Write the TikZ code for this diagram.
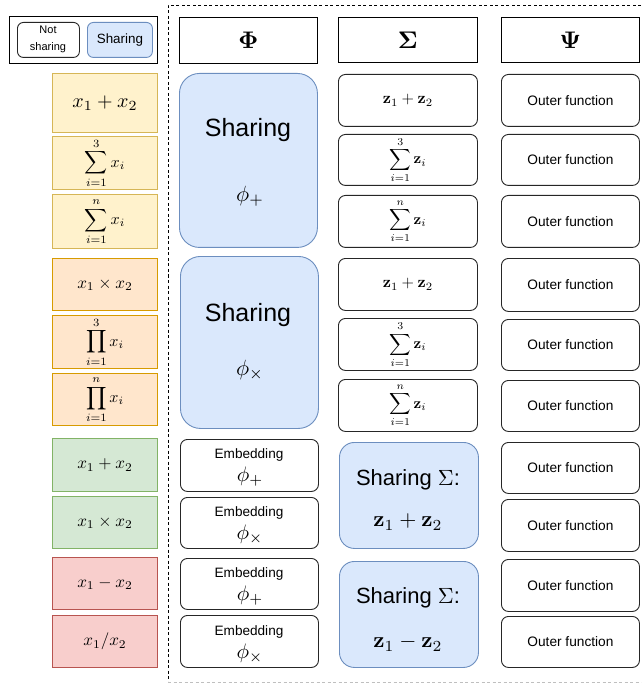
\documentclass[tikz,border=0pt]{standalone}
\usepackage{amsmath,amssymb,graphicx}
\usepackage[no-math]{fontspec}
\newfontfamily\hel{Liberation Sans}
\definecolor{ylwF}{HTML}{FFF2CC}\definecolor{ylwD}{HTML}{D6B656}
\definecolor{orgF}{HTML}{FFE6CC}\definecolor{orgD}{HTML}{D79B00}
\definecolor{grnF}{HTML}{D5E8D4}\definecolor{grnD}{HTML}{82B366}
\definecolor{redF}{HTML}{F8CECC}\definecolor{redD}{HTML}{B85450}
\definecolor{bluF}{HTML}{DAE8FC}\definecolor{bluD}{HTML}{6C8EBF}
\newcommand\fs[1]{\fontsize{#1}{#1}\selectfont}
\newcommand\ms[2]{\scalebox{#1}{#2}}
\newcommand\bx[7]{\node[#6,anchor=north west,minimum width=#4pt-#2pt,minimum height=#5pt-#3pt,inner sep=0pt] (#1) at (#2,#3) {#7};}
\tikzset{
  hdr/.style={draw=black, line width=0.9pt, fill=white},
  plain/.style={draw=black!85, line width=0.9pt, fill=white, rounded corners=7pt},
  ylw/.style={draw=ylwD, fill=ylwF, line width=1pt},
  org/.style={draw=orgD, fill=orgF, line width=1pt},
  grn/.style={draw=grnD, fill=grnF, line width=1pt},
  red/.style={draw=redD, fill=redF, line width=1pt},
  share/.style={draw=bluD, fill=bluF, line width=0.9pt, rounded corners=20pt},
  frame/.style={draw=black, line width=0.8pt, dash pattern=on 3pt off 2.5pt},
  txt/.style={inner sep=0pt, anchor=center},
}
\begin{document}
\begin{tikzpicture}[x=1pt,y=-1pt]
\useasboundingbox (0,0) rectangle (641,684);
% dashed frame
\coordinate (fTL) at (168,5); \coordinate (fTR) at (641,5);
\coordinate (fBL) at (168,682); \coordinate (fBR) at (641,682);
\draw[frame] (fTR) -- (fTL) -- (fBL);
\draw[frame, draw=black!25] (fBL) -- (fBR);
% legend
\bx{leg}{9}{16}{157}{63}{hdr}{}
\bx{legN}{17}{22}{79}{57}{plain, rounded corners=6pt}{}
\node[txt, align=center, font=\hel\fontsize{11}{17}\selectfont] (legNt) at (48,39.5) {Not\\sharing};
\bx{legS}{87}{22}{152}{57}{share, rounded corners=6pt}{\hel\fs{13.4}Sharing}
% headers
\bx{hPhi}{179}{17}{317}{63}{hdr}{\ms{2.4}{$\boldsymbol{\Phi}$}}
\bx{hSig}{338}{17}{477}{62}{hdr}{\ms{2.4}{$\boldsymbol{\Sigma}$}}
\bx{hPsi}{501}{17}{639}{62}{hdr}{\ms{2.4}{$\boldsymbol{\Psi}$}}
% left column
\bx{a1}{52}{73}{157}{132}{ylw}{\ms{2}{$x_1+x_2$}}
\bx{a2}{52}{136}{157}{189}{ylw}{\ms{1.6}{$\displaystyle\sum_{i=1}^{3}x_i$}}
\bx{a3}{52}{194}{157}{248}{ylw}{\ms{1.6}{$\displaystyle\sum_{i=1}^{n}x_i$}}
\bx{b1}{52}{258}{157}{310}{org}{\ms{1.7}{$x_1\times x_2$}}
\bx{b2}{52}{315}{157}{368}{org}{\ms{1.6}{$\displaystyle\prod_{i=1}^{3}x_i$}}
\bx{b3}{52}{373}{157}{425}{org}{\ms{1.6}{$\displaystyle\prod_{i=1}^{n}x_i$}}
\bx{c1}{52}{438}{157}{491}{grn}{\ms{1.7}{$x_1+x_2$}}
\bx{c2}{52}{496}{157}{548}{grn}{\ms{1.7}{$x_1\times x_2$}}
\bx{d1}{52}{557}{157}{609}{red}{\ms{1.7}{$x_1-x_2$}}
\bx{d2}{52}{615}{157}{667}{red}{\ms{1.7}{$x_1/x_2$}}
% Phi column
\bx{p1}{179}{73}{317}{247}{share}{}
\node[txt] (p1a) at (248,130) {\hel\fs{25}Sharing};
\node[txt] (p1b) at (250,196) {\ms{2.2}{$\phi_+$}};
\bx{p2}{180}{256}{318}{428}{share}{}
\node[txt] (p2a) at (248,315) {\hel\fs{25}Sharing};
\node[txt] (p2b) at (250,370) {\ms{2.2}{$\phi_\times$}};
\bx{e1}{180}{439}{318}{491}{plain}{}
\node[txt] (e1a) at (249,455) {\hel\fs{13.6}Embedding};
\node[txt] (e1b) at (250,477) {\ms{2.1}{$\phi_+$}};
\bx{e2}{180}{497}{318}{548}{plain}{}
\node[txt] (e2a) at (249,513) {\hel\fs{13.6}Embedding};
\node[txt] (e2b) at (250,535) {\ms{2.1}{$\phi_\times$}};
\bx{e3}{180}{558}{318}{609}{plain}{}
\node[txt] (e3a) at (249,574) {\hel\fs{13.6}Embedding};
\node[txt] (e3b) at (250,596) {\ms{2.1}{$\phi_+$}};
\bx{e4}{180}{615}{318}{667}{plain}{}
\node[txt] (e4a) at (249,632) {\hel\fs{13.6}Embedding};
\node[txt] (e4b) at (250,654) {\ms{2.1}{$\phi_\times$}};
% Sigma column
\bx{s1}{338}{74}{477}{126}{plain}{\ms{1.6}{$\mathbf{z}_1+\mathbf{z}_2$}}
\bx{s2}{338}{134}{477}{185}{plain}{\ms{1.5}{$\displaystyle\sum_{i=1}^{3}\mathbf{z}_i$}}
\bx{s3}{338}{195}{477}{247}{plain}{\ms{1.5}{$\displaystyle\sum_{i=1}^{n}\mathbf{z}_i$}}
\bx{s4}{338}{258}{477}{310}{plain}{\ms{1.6}{$\mathbf{z}_1+\mathbf{z}_2$}}
\bx{s5}{338}{318}{477}{370}{plain}{\ms{1.5}{$\displaystyle\sum_{i=1}^{3}\mathbf{z}_i$}}
\bx{s6}{338}{379}{477}{431}{plain}{\ms{1.5}{$\displaystyle\sum_{i=1}^{n}\mathbf{z}_i$}}
\bx{ss1}{339}{442}{478}{548}{share, rounded corners=15pt}{}
\node[txt] (ss1a) at (408,480) {\hel\fs{22}Sharing \ms{2.2}{\fs{10}$\Sigma$}:};
\node[txt] (ss1b) at (408,522) {\ms{2.2}{$\mathbf{z}_1+\mathbf{z}_2$}};
\bx{ss2}{339}{561}{478}{667}{share, rounded corners=15pt}{}
\node[txt] (ss2a) at (408,598) {\hel\fs{22}Sharing \ms{2.2}{\fs{10}$\Sigma$}:};
\node[txt] (ss2b) at (408,643) {\ms{2.2}{$\mathbf{z}_1-\mathbf{z}_2$}};
% Psi column
\bx{o1}{501}{74}{639}{126}{plain}{\hel\fs{13.7}Outer function}
\bx{o2}{501}{134}{639}{185}{plain}{\hel\fs{13.7}Outer function}
\bx{o3}{501}{195}{639}{247}{plain}{\hel\fs{13.7}Outer function}
\bx{o4}{501}{258}{639}{311}{plain}{\hel\fs{13.7}Outer function}
\bx{o5}{501}{319}{639}{370}{plain}{\hel\fs{13.7}Outer function}
\bx{o6}{501}{380}{639}{431}{plain}{\hel\fs{13.7}Outer function}
\bx{o7}{501}{442}{639}{493}{plain}{\hel\fs{13.7}Outer function}
\bx{o8}{501}{499}{639}{551}{plain}{\hel\fs{13.7}Outer function}
\bx{o9}{501}{559}{639}{611}{plain}{\hel\fs{13.7}Outer function}
\bx{o10}{501}{616}{639}{667}{plain}{\hel\fs{13.7}Outer function}
\end{tikzpicture}
\end{document}
